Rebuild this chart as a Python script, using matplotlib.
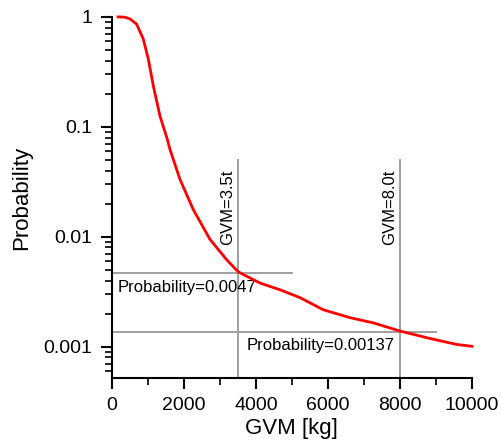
import matplotlib
matplotlib.use("Agg")
import matplotlib.pyplot as plt
from matplotlib.ticker import LogLocator, MultipleLocator, NullFormatter, FuncFormatter

plt.rcParams['font.family'] = ['Liberation Sans', 'DejaVu Sans']

# curve
gvm = [170, 350, 500, 685, 870, 1010, 1148, 1333, 1537, 1611, 1889, 2259,
       2722, 3185, 3509, 4111, 4667, 5222, 5870, 6611, 7259, 8000, 8833,
       9574, 10000]
prob = [1.0, 0.995, 0.96, 0.86, 0.63, 0.414, 0.237, 0.126, 0.0774, 0.0626,
        0.0334, 0.0177, 0.0095, 0.0062, 0.0048, 0.0038, 0.0033, 0.0028,
        0.00217, 0.00184, 0.00165, 0.00139, 0.00119, 0.00105, 0.00101]

# reference markers
mark_gvm = [3500, 8000]
mark_prob = [0.0047, 0.00137]
mark_hline_end = [5000, 9000]
mark_vline_top = 0.05
mark_labels = ["GVM=3.5t", "GVM=8.0t"]
prob_labels = ["Probability=0.0047", "Probability=0.00137"]
prob_label_x = [170, 3750]

fig = plt.figure(figsize=(5.02, 4.45), dpi=100)
ax = fig.add_axes([0.223, 0.1506, 0.717, 0.8114])

ax.set_yscale('log')
ax.set_xlim(0, 10000)
ax.set_ylim(0.00052, 1.0)

grey = '#a0a0a0'
for i in range(2):
    ax.plot([mark_gvm[i], mark_gvm[i]], [0.00052, mark_vline_top], color=grey, lw=1.4, zorder=1)
    ax.plot([0, mark_hline_end[i]], [mark_prob[i], mark_prob[i]], color=grey, lw=1.4, zorder=1)
    ax.text(mark_gvm[i] - 70, 0.041, mark_labels[i], rotation=90, ha='right', va='top',
            fontsize=12)
    ax.text(prob_label_x[i], mark_prob[i] * 0.87, prob_labels[i], ha='left', va='top',
            fontsize=12)

ax.plot(gvm, prob, color='#ff0000', lw=2, zorder=3, clip_on=False)

ax.spines['top'].set_visible(False)
ax.spines['right'].set_visible(False)
ax.spines['left'].set_linewidth(1.5)
ax.spines['bottom'].set_linewidth(1.5)

ax.xaxis.set_major_locator(MultipleLocator(2000))
ax.xaxis.set_minor_locator(MultipleLocator(1000))
ax.yaxis.set_major_locator(LogLocator(base=10, numticks=10))
ax.yaxis.set_minor_locator(LogLocator(base=10, subs=range(2, 10), numticks=10))
ax.yaxis.set_minor_formatter(NullFormatter())
ax.yaxis.set_major_formatter(FuncFormatter(lambda v, p: f"{v:g}"))

ax.tick_params(which='major', direction='out', length=8, width=1.5, labelsize=14, pad=6)
ax.tick_params(which='minor', direction='out', length=5, width=1.2)

ax.set_xlabel("GVM [kg]", fontsize=16)
ax.set_ylabel("Probability", fontsize=16)
ax.xaxis.set_label_coords(0.5, -0.112)
ax.yaxis.set_label_coords(-0.222, 0.5)

fig.savefig("out.png", dpi=100)
